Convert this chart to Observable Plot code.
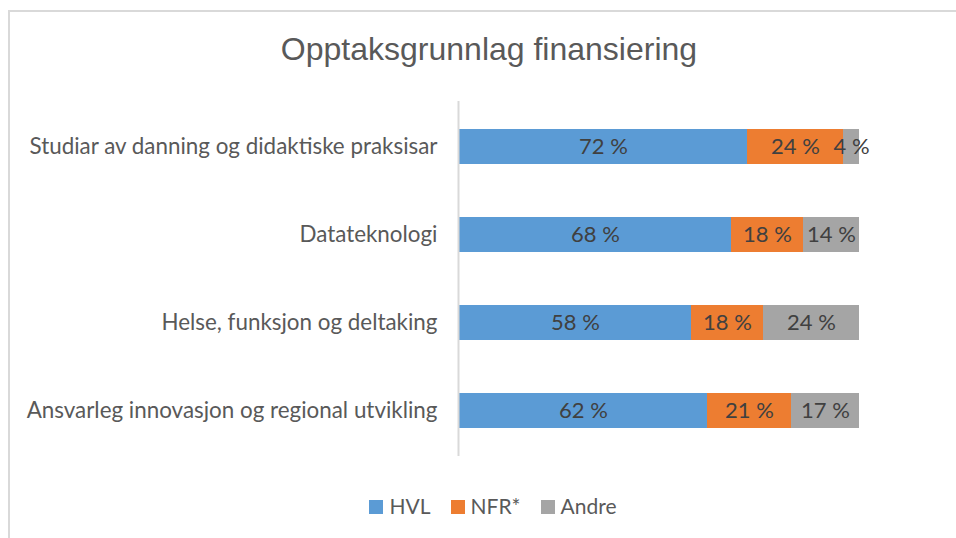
<!DOCTYPE html>
<html><head><meta charset="utf-8">
<script src="https://cdn.jsdelivr.net/npm/d3@7"></script>
<script src="https://cdn.jsdelivr.net/npm/@observablehq/plot@0.6"></script>
<style>
body{margin:0;background:#fff;}
#wrap{position:relative;width:956px;height:538px;overflow:hidden;background:#fff;}
#frame{position:absolute;left:8px;top:10px;width:980px;height:560px;border-top:2px solid #d9d9d9;border-left:2px solid #d9d9d9;}
#title{position:absolute;top:33px;left:0;width:978px;text-align:center;font-family:"Liberation Sans",Arial,sans-serif;font-size:32px;line-height:32px;color:#595959;white-space:nowrap;}
#chart{position:absolute;left:0;top:100px;}
#legend{position:absolute;top:494px;left:0;width:986px;display:flex;justify-content:center;font-family:Lato,sans-serif;font-size:21px;line-height:24px;color:#595959;}
#legend .item{display:flex;align-items:center;margin:0 10px;}
#legend .sw{width:14px;height:14px;margin-right:6px;margin-top:2px;}
</style></head>
<body>
<div id="wrap">
<div id="frame"></div>
<div id="title">Opptaksgrunnlag finansiering</div>
<div id="chart"></div>
<div id="legend"></div>
</div>
<script>
const categories = ["Studiar av danning og didaktiske praksisar","Datateknologi","Helse, funksjon og deltaking","Ansvarleg innovasjon og regional utvikling"];
const series = ["HVL","NFR*","Andre"];
const hvl = [72,68,58,62];
const nfr = [24,18,18,21];
const andre = [4,14,24,17];
const colors = ["#5b9bd5","#ed7d31","#a5a5a5"];

const values = [hvl, nfr, andre];
const rows = [];
series.forEach((s, si) => categories.forEach((c, ci) => rows.push({cat: c, series: s, value: values[si][ci]})));

const chart = Plot.plot({
  width: 956, height: 360,
  marginLeft: 459, marginRight: 97, marginTop: 1, marginBottom: 4,
  style: {fontFamily: "Lato, sans-serif", fontSize: "22px", color: "#595959", background: "transparent"},
  x: {domain: [0, 100], axis: null},
  y: {domain: categories, paddingInner: 0.6, paddingOuter: 0.3, label: null, axis: null},
  color: {domain: series, range: colors},
  marks: [
    Plot.barX(rows, Plot.stackX({x: "value", y: "cat", fill: "series", order: series})),
    Plot.text(rows, Plot.stackX({x: "value", y: "cat", z: "series", order: series, text: d => d.value + " %", fill: "#404040", fontSize: 22})),
    Plot.ruleX([0], {stroke: "#d9d9d9", strokeWidth: 2, dx: -1}),
    Plot.axisY({tickSize: 0, tickPadding: 22, fontSize: 22.4, fill: "#595959", label: null})
  ]
});
document.getElementById("chart").appendChild(chart);

const leg = document.getElementById("legend");
series.forEach((s, i) => {
  const it = document.createElement("div"); it.className = "item";
  const sw = document.createElement("span"); sw.className = "sw"; sw.style.background = colors[i];
  const tx = document.createElement("span"); tx.textContent = s;
  it.appendChild(sw); it.appendChild(tx); leg.appendChild(it);
});
</script>
</body></html>
